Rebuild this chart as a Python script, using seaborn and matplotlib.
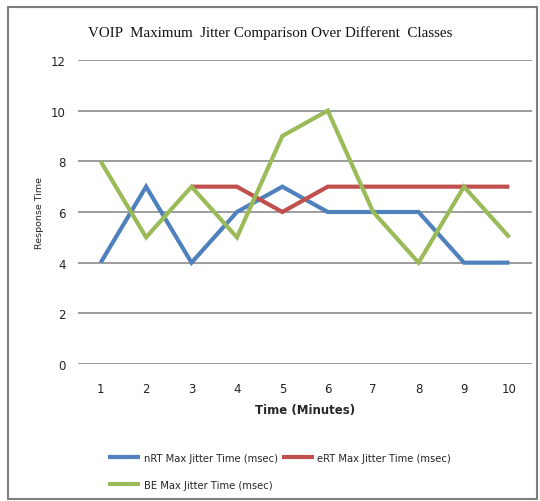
import numpy as np
import pandas as pd
import matplotlib
matplotlib.use("Agg")
import matplotlib.pyplot as plt
import seaborn as sns
from matplotlib.patches import Rectangle

minutes = [1, 2, 3, 4, 5, 6, 7, 8, 9, 10]
nrt = [4, 7, 4, 6, 7, 6, 6, 6, 4, 4]
ert = [np.nan, np.nan, 7, 7, 6, 7, 7, 7, 7, 7]
be = [8, 5, 7, 5, 9, 10, 6, 4, 7, 5]
series_names = ["nRT Max Jitter Time (msec)", "eRT Max Jitter Time (msec)", "BE Max Jitter Time (msec)"]
colors = ["#4F81BD", "#C0504D", "#9BBB59"]

rows = []
for name, vals in zip(series_names, [nrt, ert, be]):
    for m, v in zip(minutes, vals):
        rows.append({"Time": m, "Value": v, "Series": name})
df = pd.DataFrame(rows)

sns.set_theme(style="white")
plt.rcParams['font.family'] = ['DejaVu Sans']

fig = plt.figure(figsize=(5.4, 5.02), dpi=100)
ax = fig.add_axes([0.1444, 0.2729, 0.841, 0.6056])

for name, c in zip(series_names, colors):
    sub = df[df["Series"] == name]
    sns.lineplot(data=sub, x="Time", y="Value", color=c, linewidth=3.0,
                 ax=ax, label=name, solid_capstyle="butt", solid_joinstyle="miter")

ax.set_xlim(0.5, 10.5)
ax.set_ylim(0, 12)
ax.set_yticks(range(0, 13, 2))
ax.set_xticks(minutes)
ax.yaxis.grid(True, color="#8c8c8c", linewidth=1.2)
ax.set_axisbelow(True)
for s in ax.spines.values():
    s.set_visible(False)
ax.tick_params(axis="both", length=0, labelsize=8.5, colors="#222222")
ax.tick_params(axis="x", pad=13)
ax.tick_params(axis="y", pad=9)
ax.set_xlabel("Time (Minutes)", fontsize=8.5, fontweight="bold", labelpad=6)
ax.set_ylabel("Response Time", fontsize=6.8, labelpad=5)

fig.text(0.5, 0.934, "VOIP  Maximum  Jitter Comparison Over Different  Classes",
         ha="center", va="center", fontsize=10.8, family="Liberation Serif", color="#111111")

ax.legend_.remove()
handles, labels = ax.get_legend_handles_labels()
order = [0, 2, 1]
leg = fig.legend([handles[i] for i in order], [labels[i] for i in order], ncol=2,
                 frameon=False, fontsize=7.2,
                 loc="upper left", bbox_to_anchor=(0.2, 0.096),
                 handlelength=3.2, handletextpad=0.35, columnspacing=0.4,
                 labelspacing=1.7, borderaxespad=0, borderpad=0)

fig.patches.append(Rectangle((8/540, 2/502), 529/540, 492/502, transform=fig.transFigure,
                             fill=False, edgecolor="#7f7f7f", linewidth=1.5))

fig.savefig("out.png", dpi=100)
